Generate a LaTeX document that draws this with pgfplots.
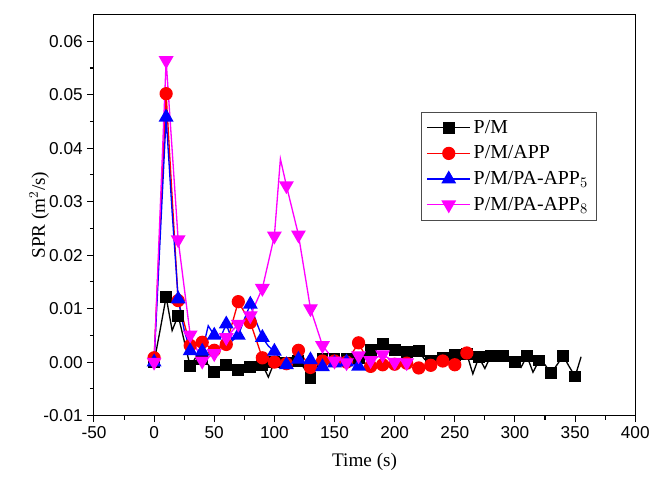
\documentclass[border=0pt]{standalone}
\usepackage{fontspec}
\setmainfont{Liberation Serif}
\setsansfont{Liberation Sans}
\usepackage{pgfplots}
\pgfplotsset{compat=1.18}
\definecolor{cblack}{RGB}{0,0,0}
\definecolor{cred}{RGB}{255,0,0}
\definecolor{cblue}{RGB}{0,0,255}
\definecolor{cmag}{RGB}{255,0,255}

\begin{document}
\begin{tikzpicture}
\begin{axis}[
  name=ax,
  scale only axis,
  width=409pt, height=303pt,
  xmin=-50, xmax=400, ymin=-0.01, ymax=0.065,
  xtick={-50,0,50,100,150,200,250,300,350,400},
  ytick={-0.01,0,0.01,0.02,0.03,0.04,0.05,0.06},
  minor x tick num=1, minor y tick num=1,
  tick align=outside,
  tick pos=left,
  major tick length=5pt, minor tick length=3pt,
  every tick/.style={line width=0.8pt, black},
  axis line style={line width=0.8pt},
  scaled y ticks=false,
  yticklabel style={/pgf/number format/.cd, fixed, fixed zerofill, precision=2},
  /pgf/number format/assume math mode=true,
  ticklabel style={font=\sffamily\fontsize{13}{15}\selectfont},
  xlabel={Time (s)}, ylabel={SPR (m$^{2}$/s)},
  label style={font=\fontsize{14.5}{17}\selectfont},
  xlabel style={yshift=-4pt},
  ylabel style={yshift=-11pt},
  legend style={at={(0.604,0.757)}, anchor=north west, draw=black!70,
    font=\fontsize{15}{17}\selectfont, row sep=4pt, inner sep=4pt},
  legend cell align=left,
  legend image code/.code={
    \draw[#1,mark=none] (0cm,0cm) -- (1.15cm,0cm);
    \draw[#1,only marks] plot coordinates {(0.575cm,0cm)};
  },
  every axis plot/.append style={line width=1pt},
]
% P/M, 5 s data, marks every 10 s
\addplot[cblack, mark=square*, mark size=4pt, mark repeat=2,
  mark options={solid}] coordinates {
 (0,0.0000) (5,0.0060) (10,0.0122) (15,0.0059) (20,0.0087) (25,0.0040)
 (30,-0.0008) (35,0.0010) (40,0.0005) (45,-0.0005) (50,-0.0019) (55,-0.0010)
 (60,-0.0006) (65,-0.0012) (70,-0.0015) (75,-0.0012) (80,-0.0010) (85,-0.0007)
 (90,-0.0005) (95,-0.0028) (100,0.0000) (105,-0.0003) (110,-0.0002) (115,0.0000)
 (120,0.0002) (125,-0.0012) (130,-0.0030) (135,-0.0010) (140,0.0005) (145,0.0005)
 (150,0.0005) (155,0.0003) (160,0.0005) (165,0.0006) (170,0.0008) (175,0.0015)
 (180,0.0022) (185,0.0028) (190,0.0033) (195,0.0028) (200,0.0022) (205,0.0020)
 (210,0.0019) (215,0.0020) (220,0.0020) (225,0.0005) (230,0.0003) (235,0.0006)
 (240,0.0008) (245,0.0010) (250,0.0014) (255,0.0015) (260,0.0015) (265,-0.0022)
 (270,0.0009) (275,-0.0012) (280,0.0012) (285,0.0012) (290,0.0012) (295,0.0005)
 (300,0.0000) (305,-0.0010) (310,0.0011) (315,-0.0019) (320,0.0003) (325,-0.0005)
 (330,-0.0021) (335,-0.0005) (340,0.0012) (345,-0.0008) (350,-0.0027) (355,0.0010)
};
\addlegendentry{P/M}
% P/M/APP
\addplot[cred, mark=*, mark size=4.5pt, mark options={solid}] coordinates {
 (0,0.0008) (10,0.0502) (20,0.0115) (30,0.0031) (40,0.0037) (50,0.0022)
 (60,0.0033) (70,0.0113) (80,0.0074) (90,0.0008) (100,0.0000) (110,-0.0003)
 (120,0.0022) (130,-0.0010) (140,0.0002) (150,0.0002) (160,0.0000) (170,0.0036)
 (180,-0.0008) (190,-0.0005) (200,-0.0004) (210,-0.0002) (220,-0.0011) (230,-0.0006)
 (240,0.0002) (250,-0.0005) (260,0.0017)
};
\addlegendentry{P/M/APP}
% P/M/PA-APP5, 5 s data, marks every 10 s
\addplot[cblue, mark=triangle*, mark size=5.5pt, mark repeat=2,
  mark options={solid}] coordinates {
 (0,0.0000) (5,0.0230) (10,0.0458) (15,0.0280) (20,0.0118) (25,0.0060)
 (30,0.0021) (35,0.0015) (40,0.0020) (45,0.0068) (50,0.0050) (55,0.0045)
 (60,0.0071) (65,0.0040) (70,0.0050) (75,0.0080) (80,0.0108) (85,0.0075)
 (90,0.0046) (95,0.0030) (100,0.0020) (105,0.0005) (110,-0.0005) (115,0.0002)
 (120,0.0005) (125,-0.0005) (130,0.0004) (135,-0.0002) (140,-0.0009) (145,-0.0003)
 (150,-0.0002) (155,-0.0005) (160,0.0000) (165,-0.0003) (170,-0.0008)
};
\addlegendentry{P/M/PA-APP$_{5}$}
% P/M/PA-APP8
\addplot[cmag, mark=triangle*, mark size=5.5pt,
  mark indices={1,2,3,4,5,6,7,8,9,10,11,13,14,15,16,17,18,19,20,21,22,23},
  mark options={solid, rotate=180}] coordinates {
 (0,0.0000) (10,0.0564) (20,0.0229) (30,0.0051) (40,0.0002) (50,0.0016)
 (60,0.0046) (70,0.0071) (80,0.0087) (90,0.0138) (100,0.0236) (105,0.0380)
 (110,0.0330) (120,0.0238) (130,0.0100) (140,0.0031) (150,0.0002) (160,-0.0001)
 (170,0.0012) (180,0.0003) (190,0.0014) (200,0.0000) (210,-0.0001)
};
\addlegendentry{P/M/PA-APP$_{8}$}
\end{axis}
\path ([shift={(-71pt,-49pt)}]ax.south west) rectangle ([shift={(10pt,11pt)}]ax.north east);
\end{tikzpicture}
\end{document}
